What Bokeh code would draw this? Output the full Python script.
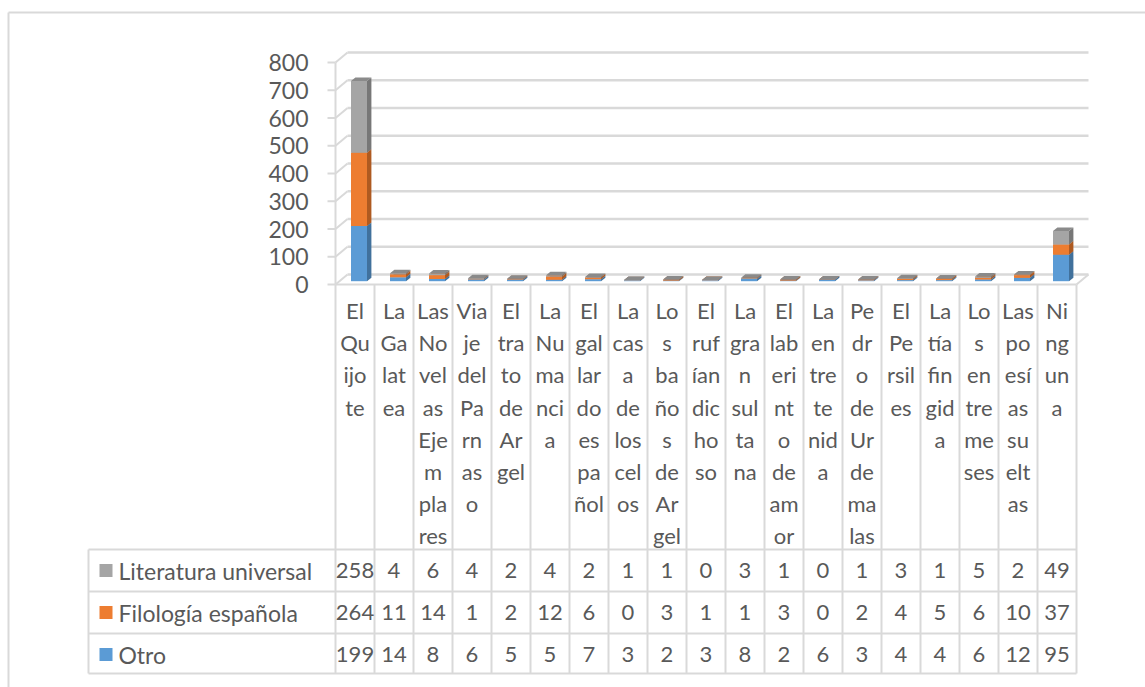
import numpy as np
from bokeh.plotting import figure
from bokeh.models import Range1d
from bokeh.core.properties import value
from bokeh.embed import file_html
from bokeh.resources import INLINE

# ---- data -------------------------------------------------------------
categories = [
    "El Quijote", "La Galatea", "Las Novelas Ejemplares", "Viaje del Parnaso",
    "El trato de Argel", "La Numancia", "El gallardo español", "La casa de los celos",
    "Los baños de Argel", "El rufián dichoso", "La gran sultana", "El laberinto de amor",
    "La entretenida", "Pedro de Urdemalas", "El Persiles", "La tía fingida",
    "Los entremeses", "Las poesías sueltas", "Ninguna",
]

# category names as they wrap inside the narrow table columns
category_lines = [
    ["El", "Qu", "ijo", "te"],
    ["La", "Ga", "lat", "ea"],
    ["Las", "No", "vel", "as", "Eje", "m", "pla", "res"],
    ["Via", "je", "del", "Pa", "rn", "as", "o"],
    ["El", "tra", "to", "de", "Ar", "gel"],
    ["La", "Nu", "ma", "nci", "a"],
    ["El", "gal", "lar", "do", "es", "pa", "ñol"],
    ["La", "cas", "a", "de", "los", "cel", "os"],
    ["Lo", "s", "ba", "ño", "s", "de", "Ar", "gel"],
    ["El", "ruf", "ían", "dic", "ho", "so"],
    ["La", "gra", "n", "sul", "ta", "na"],
    ["El", "lab", "eri", "nt", "o", "de", "am", "or"],
    ["La", "en", "tre", "te", "nid", "a"],
    ["Pe", "dr", "o", "de", "Ur", "de", "ma", "las"],
    ["El", "Pe", "rsil", "es"],
    ["La", "tía", "fin", "gid", "a"],
    ["Lo", "s", "en", "tre", "me", "ses"],
    ["Las", "po", "esí", "as", "su", "elt", "as"],
    ["Ni", "ng", "un", "a"],
]

otro = [199, 14, 8, 6, 5, 5, 7, 3, 2, 3, 8, 2, 6, 3, 4, 4, 6, 12, 95]
filologia = [264, 11, 14, 1, 2, 12, 6, 0, 3, 1, 1, 3, 0, 2, 4, 5, 6, 10, 37]
literatura = [258, 4, 6, 4, 2, 4, 2, 1, 1, 0, 3, 1, 0, 1, 3, 1, 5, 2, 49]

series_names = ["Otro", "Filología española", "Literatura universal"]
y_ticks = [0, 100, 200, 300, 400, 500, 600, 700, 800]

# ---- styling ----------------------------------------------------------
FRONT = ["#5B9BD5", "#ED7D31", "#A5A5A5"]
SIDE = ["#41719C", "#AE5A21", "#777777"]
TOP = ["#4A86BE", "#C9692A", "#8A8A8A"]
LINE = "#D9D9D9"
TEXT = "#595959"
FONT = value("Lato")

W, H = 1145, 687
COL_PX = 39.0          # pixel width of one category column
LEFT_PX = 335.0        # x of the value axis / first column
BASE_PX = 284.0        # y of the zero line
K = 0.2775             # pixels per unit of value

WALL_DX = 12 / COL_PX  # depth of the 3-D wall
WALL_DY = 10 / K
BAR_L, BAR_R = 15.5 / COL_PX, 31.5 / COL_PX
BAR_LIFT = 3.3 / K
BAR_DX, BAR_DY = 4.4 / COL_PX, 3.5 / K

n = len(categories)
idx = np.arange(n)

p = figure(
    width=W, height=H, output_backend="svg", toolbar_location=None,
    x_range=Range1d(-LEFT_PX / COL_PX, (W - LEFT_PX) / COL_PX),
    y_range=Range1d(-(H - BASE_PX) / K, BASE_PX / K),
    x_axis_location=None, y_axis_location=None, min_border=0,
    outline_line_color=None, background_fill_color="white", border_fill_color="white",
)
p.grid.visible = False
p.extra_x_ranges = {"px": Range1d(0, W)}
p.extra_y_ranges = {"px": Range1d(H, 0)}

# outer frame of the chart object
p.segment(x0=[8, 8], y0=[12, 12], x1=[W, 8], y1=[12, H],
          x_range_name="px", y_range_name="px", line_color=LINE, line_width=2)

# back wall gridlines, diagonal connectors and front ticks
yt = np.array(y_ticks, float)
p.segment(x0=[WALL_DX] * len(yt), y0=yt + WALL_DY, x1=[n + WALL_DX] * len(yt), y1=yt + WALL_DY,
          line_color=LINE, line_width=2.5)
p.segment(x0=[0] * len(yt), y0=yt, x1=[WALL_DX] * len(yt), y1=yt + WALL_DY,
          line_color=LINE, line_width=2)
p.segment(x0=[-8 / COL_PX] * len(yt), y0=yt, x1=[0] * len(yt), y1=yt,
          line_color=LINE, line_width=2)
# front value axis and floor edge
p.segment(x0=[0, 0, n], y0=[0, 0, 0], x1=[0, n, n + WALL_DX], y1=[y_ticks[-1], 0, WALL_DY],
          line_color=LINE, line_width=2)

# y tick labels
p.text(x=[308] * len(yt), y=yt, text=[str(v) for v in y_ticks], x_range_name="px",
       text_align="right", text_baseline="middle", text_font=FONT,
       text_font_size="23px", text_color=TEXT)

# stacked 3-D columns
bottom = np.zeros(n)
for vals, fc, sc, tc in zip([otro, filologia, literatura], FRONT, SIDE, TOP):
    v = np.array(vals, float)
    y0 = bottom + BAR_LIFT
    y1 = bottom + v + BAR_LIFT
    xl = idx + BAR_L
    xr = idx + BAR_R
    p.quad(left=xl, right=xr, bottom=y0, top=y1, fill_color=fc, line_color=None)
    p.patches(
        xs=[[a, a + BAR_DX, a + BAR_DX, a] for a in xr],
        ys=[[b0, b0 + BAR_DY, b1 + BAR_DY, b1] for b0, b1 in zip(y0, y1)],
        fill_color=sc, line_color=None)
    p.patches(
        xs=[[l, r, r + BAR_DX, l + BAR_DX] for l, r in zip(xl, xr)],
        ys=[[b1, b1, b1 + BAR_DY, b1 + BAR_DY] for b1 in y1],
        fill_color=tc, line_color=None)
    bottom += v

# ---- data table under the chart ---------------------------------------
ROW_TOP = [549, 591, 633]
TABLE_BOTTOM = 673
TABLE_LEFT = 88

# column separators
p.segment(x0=list(range(n + 1)), y0=[BASE_PX] * (n + 1), x1=list(range(n + 1)),
          y1=[TABLE_BOTTOM] * (n + 1), y_range_name="px", line_color=LINE, line_width=2)
# row separators and legend column border
hy = ROW_TOP + [TABLE_BOTTOM]
p.segment(x0=[TABLE_LEFT] * 4, y0=hy, x1=[LEFT_PX + n * COL_PX] * 4, y1=hy,
          x_range_name="px", y_range_name="px", line_color=LINE, line_width=2)
p.segment(x0=[TABLE_LEFT], y0=[ROW_TOP[0]], x1=[TABLE_LEFT], y1=[TABLE_BOTTOM],
          x_range_name="px", y_range_name="px", line_color=LINE, line_width=2)

# wrapped category names
lx, ly, lt = [], [], []
for i, lines in enumerate(category_lines):
    for k, s in enumerate(lines):
        lx.append(i + 0.5)
        ly.append(310 + 32.2 * k)
        lt.append(s)
p.text(x=lx, y=ly, text=lt, y_range_name="px", text_align="center",
       text_baseline="middle", text_font=FONT, text_font_size="22px", text_color=TEXT)

# series rows: swatch, name, values
rows = [(series_names[2], literatura, FRONT[2]),
        (series_names[1], filologia, FRONT[1]),
        (series_names[0], otro, FRONT[0])]
for (name, vals, col), top in zip(rows, ROW_TOP):
    cy = top + 21
    p.rect(x=[105.5], y=[cy], width=13, height=13, x_range_name="px", y_range_name="px",
           fill_color=col, line_color=None)
    p.text(x=[118], y=[cy], text=[name], x_range_name="px", y_range_name="px",
           text_align="left", text_baseline="middle", text_font=FONT,
           text_font_size="23px", text_color=TEXT)
    p.text(x=idx + 0.5, y=[cy] * n, text=[str(v) for v in vals], y_range_name="px",
           text_align="center", text_baseline="middle", text_font=FONT,
           text_font_size="22px", text_color=TEXT)

open("out.html", "w").write(file_html(p, INLINE))
